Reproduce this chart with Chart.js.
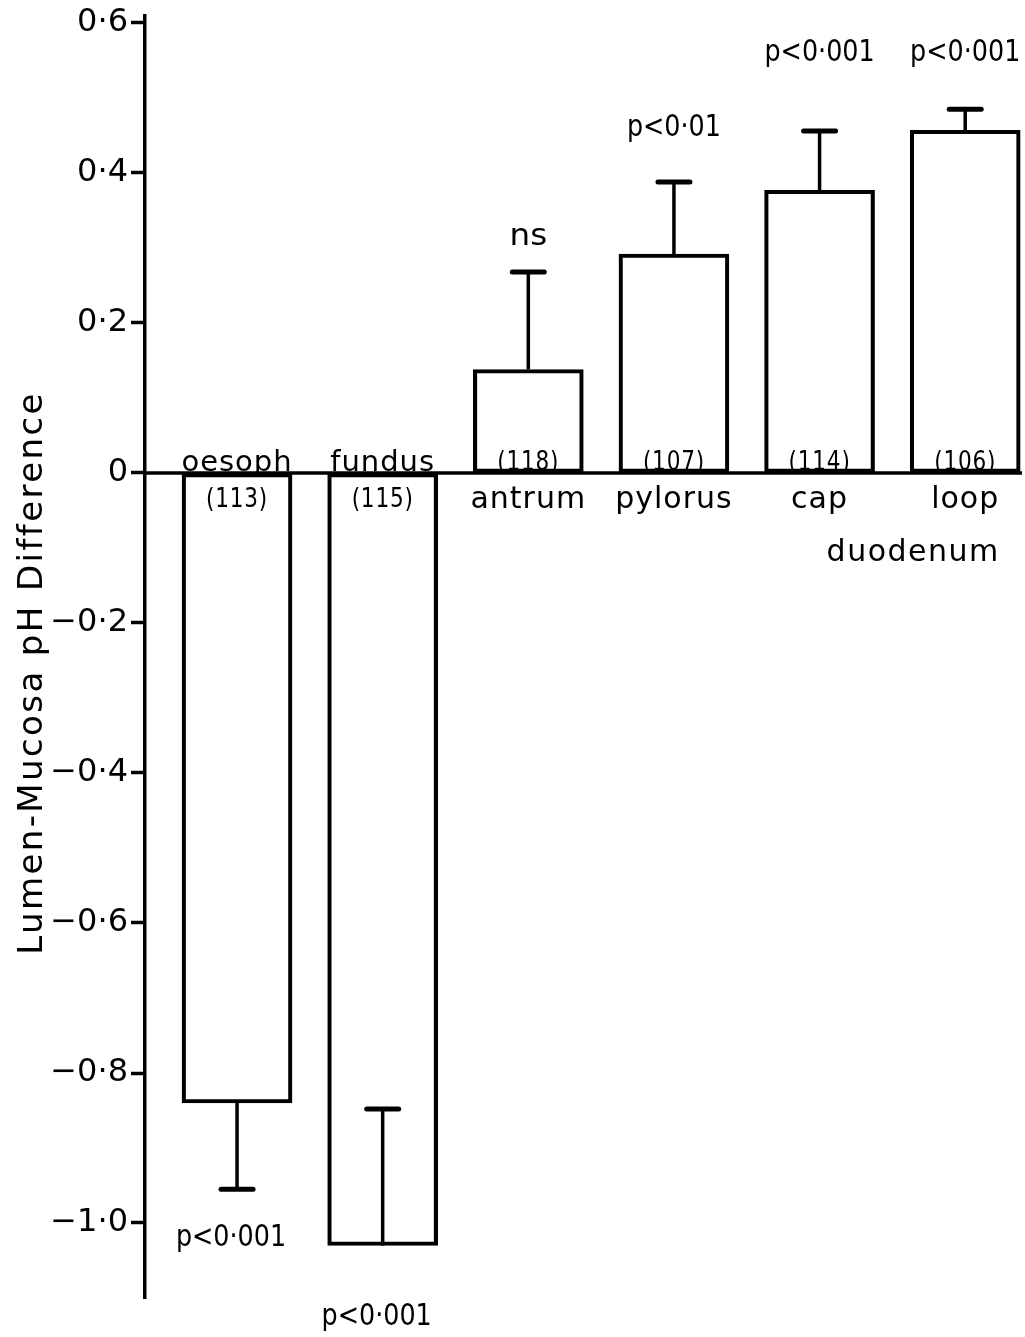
<!DOCTYPE html>
<html><head><meta charset="utf-8">
<script src="https://cdn.jsdelivr.net/npm/chart.js@4.4.1/dist/chart.umd.min.js"></script>
<style>html,body{margin:0;padding:0;background:#fff}#wrap{width:1025px;height:1337px;position:relative}</style>
</head><body><div id="wrap"><canvas id="c"></canvas></div>
<script>
const categories = ['oesoph', 'fundus', 'antrum', 'pylorus', 'cap', 'loop'];
const counts = ['(113)', '(115)', '(118)', '(107)', '(114)', '(106)'];
const meanDiff = [-0.84, -1.03, 0.138, 0.292, 0.377, 0.457];
const errorEnd = [-0.955, -0.848, 0.268, 0.388, 0.456, 0.485];
const pLabels = ['p<0·001', 'p<0·001', 'ns', 'p<0·01', 'p<0·001', 'p<0·001'];
const pLabelAt = [-1.02, -1.125, 0.315, 0.46, 0.56, 0.56];
const groupLabel = 'duodenum';
const yTickValues = [0.6, 0.4, 0.2, 0, -0.2, -0.4, -0.6, -0.8, -1.0];
const yTickLabels = ['0·6', '0·4', '0·2', '0', '−0·2', '−0·4', '−0·6', '−0·8', '−1·0'];
const yTitle = 'Lumen-Mucosa pH Difference';

const FONT = "'DejaVu Sans', 'Noto Sans', sans-serif";

function squeezedText(ctx, text, x, y, sx) {
  ctx.save();
  ctx.translate(x, y);
  ctx.scale(sx, 1);
  ctx.fillText(text, 0, 0);
  ctx.restore();
}

const annotate = {
  id: 'annotate',
  afterDatasetsDraw(chart) {
    const ctx = chart.ctx, xs = chart.scales.x, ys = chart.scales.y;
    ctx.save();
    ctx.strokeStyle = '#000';
    ctx.lineCap = 'butt';
    meanDiff.forEach((v, i) => {
      const x = xs.getPixelForValue(i + 1);
      const y0 = ys.getPixelForValue(v);
      const y1 = ys.getPixelForValue(errorEnd[i]);
      ctx.lineWidth = 3.5;
      ctx.beginPath(); ctx.moveTo(x, y0); ctx.lineTo(x, y1); ctx.stroke();
      ctx.lineWidth = 5;
      ctx.lineCap = 'round';
      ctx.beginPath(); ctx.moveTo(x - 16, y1); ctx.lineTo(x + 16, y1); ctx.stroke();
      ctx.lineCap = 'butt';
    });
    const yz = ys.getPixelForValue(0);
    ctx.lineWidth = 3.5;
    ctx.beginPath(); ctx.moveTo(chart.chartArea.left, yz); ctx.lineTo(chart.chartArea.right, yz); ctx.stroke();
    ctx.restore();
  },
  afterDraw(chart) {
    const ctx = chart.ctx, xs = chart.scales.x, ys = chart.scales.y;
    const yz = ys.getPixelForValue(0);
    ctx.save();
    ctx.fillStyle = '#000';
    ctx.textAlign = 'center';
    meanDiff.forEach((v, i) => {
      const x = xs.getPixelForValue(i + 1);
      ctx.textBaseline = 'alphabetic';
      if ('letterSpacing' in ctx) ctx.letterSpacing = '1px';
      if (v < 0) {
        ctx.font = '29px ' + FONT;
        ctx.fillText(categories[i], x, yz - 2);
        ctx.font = '27px ' + FONT;
        squeezedText(ctx, counts[i], x, yz + 34, 0.8);
      } else {
        ctx.font = '27px ' + FONT;
        squeezedText(ctx, counts[i], x, yz - 3, 0.8);
        ctx.font = '30px ' + FONT;
        ctx.fillText(categories[i], x, yz + 35);
      }
      if ('letterSpacing' in ctx) ctx.letterSpacing = '0px';
      ctx.font = '31px ' + FONT;
      ctx.textBaseline = 'middle';
      const hasDigits = /\d/.test(pLabels[i]);
      const dx = v < 0 ? -6 : 0;
      squeezedText(ctx, pLabels[i], x + dx, ys.getPixelForValue(pLabelAt[i]), hasDigits ? 0.82 : 1.05);
    });
    if ('letterSpacing' in ctx) ctx.letterSpacing = '1.5px';
    ctx.font = '30px ' + FONT;
    ctx.textBaseline = 'alphabetic';
    ctx.fillText(groupLabel, xs.getPixelForValue(6) - 52, yz + 88);
    ctx.translate(33, 673);
    ctx.rotate(-Math.PI / 2);
    ctx.font = '34px ' + FONT;
    if ('letterSpacing' in ctx) ctx.letterSpacing = '2.4px';
    ctx.textBaseline = 'middle';
    ctx.fillText(yTitle, 0, 0);
    ctx.restore();
  }
};

new Chart(document.getElementById('c'), {
  type: 'bar',
  data: {
    datasets: [{
      data: meanDiff.map((v, i) => ({ x: i + 1, y: v })),
      backgroundColor: 'rgba(0,0,0,0)',
      borderColor: '#000',
      borderWidth: 3.5,
      borderSkipped: false,
      barThickness: 110
    }]
  },
  options: {
    responsive: true,
    maintainAspectRatio: false,
    animation: false,
    events: [],
    layout: { padding: { left: 0, right: 3, top: 15.5, bottom: 39 } },
    plugins: { legend: { display: false }, tooltip: { enabled: false } },
    scales: {
      x: { type: 'linear', display: false, offset: false, min: 0.368, max: 6.39 },
      y: {
        type: 'linear',
        min: -1.1,
        max: 0.61,
        afterBuildTicks(scale) { scale.ticks = yTickValues.map(v => ({ value: v })); },
        afterFit(scale) { scale.width = 145; },
        border: { display: true, color: '#000', width: 3.5 },
        grid: {
          drawOnChartArea: false,
          drawTicks: true,
          tickLength: 14,
          tickWidth: 3.5,
          tickColor: '#000'
        },
        ticks: {
          color: '#000',
          padding: 3,
          font: { family: FONT, size: 32, lineHeight: 0.7 },
          callback(value) {
            const k = yTickValues.findIndex(t => Math.abs(t - value) < 1e-9);
            return k >= 0 ? yTickLabels[k] : '';
          }
        }
      }
    }
  },
  plugins: [annotate]
});
</script></body></html>
